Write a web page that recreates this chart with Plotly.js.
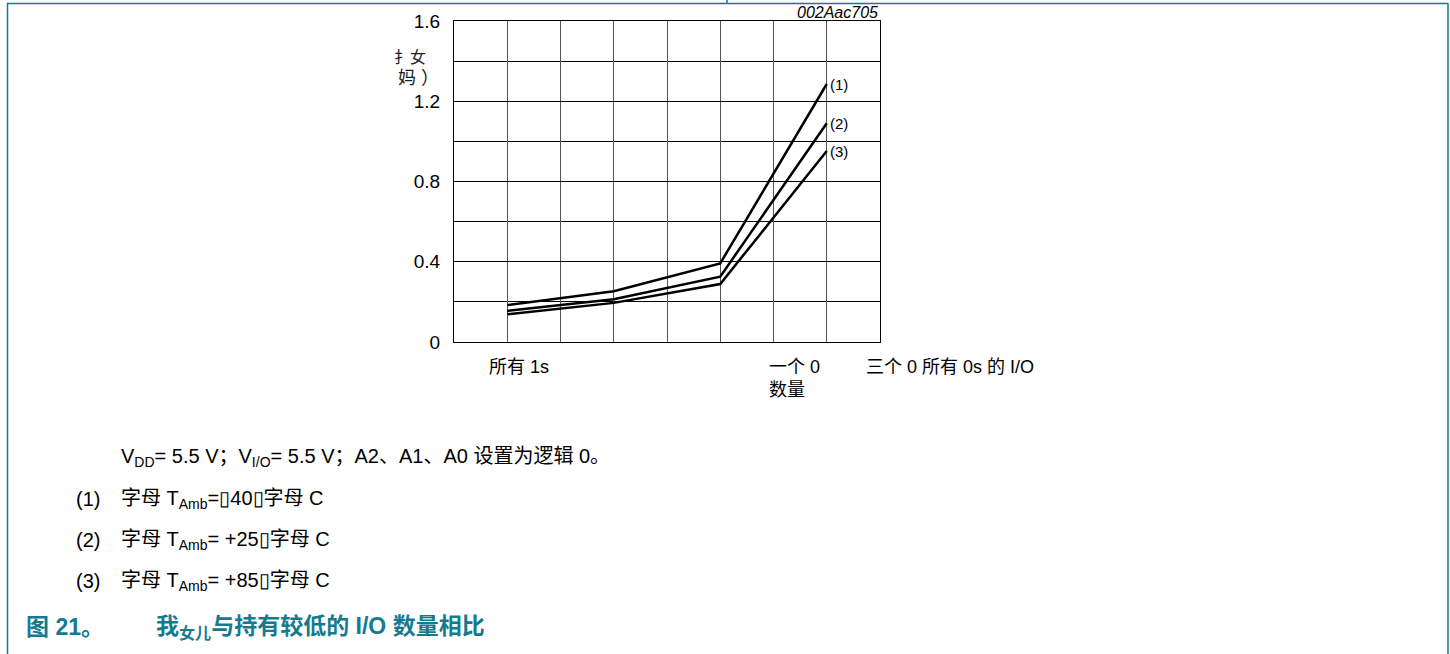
<!DOCTYPE html>
<html>
<head>
<meta charset="utf-8">
<script src="https://cdn.plot.ly/plotly-3.0.1.min.js"></script>
<style>
html,body{margin:0;padding:0;background:#fff;}
#chart{width:1450px;height:654px;}
</style>
</head>
<body>
<div id="chart"></div>
<script>
// ---- data ----
const xPositions = [1, 3, 5, 7];
const seriesNames = ['(1)', '(2)', '(3)'];
const series1 = [0.184, 0.253, 0.392, 1.286];
const series2 = [0.155, 0.213, 0.326, 1.090];
const series3 = [0.138, 0.195, 0.289, 0.952];
const yTickVals = [0, 0.4, 0.8, 1.2, 1.6];
const yTickText = ['0', '0.4', '0.8', '1.2', '1.6'];
const xLabelTexts = ['所有 1s', '一个 0', '三个 0 所有 0s 的 I/O'];
const xLabelPos = [0.62, 5.88, 7.7];
const xAxisTitle = '数量';
const yTitleLines = ['扌女', '妈 ）'];
const chartId = '002Aac705';
const noteLines = [
  'V<sub>DD</sub>= 5.5 V；V<sub>I/O</sub>= 5.5 V；A2、A1、A0 设置为逻辑 0。'
];
const legendNums = ['(1)', '(2)', '(3)'];
const legendTexts = [
  '字母 T<sub>Amb</sub>=▯40▯字母 C',
  '字母 T<sub>Amb</sub>= +25▯字母 C',
  '字母 T<sub>Amb</sub>= +85▯字母 C'
];
const figNumber = '图 21。';
const figTitle = '我<sub>女儿</sub>与持有较低的 I/O 数量相比';

// ---- layout geometry ----
const W = 1450, H = 654;
const L = 454, R = 880, T = 21, B = 342;
const px = x => (x - L) / (R - L);
const py = y => (B - y) / (B - T);
const FONT = 'Liberation Sans, Arial, Noto Sans CJK SC, sans-serif';
const TEAL = '#167a8f';

const allSeries = [series1, series2, series3];
const traces = allSeries.map((s, i) => ({
  x: xPositions, y: s, type: 'scatter', mode: 'lines',
  name: seriesNames[i], line: {color: '#000', width: 2.5}, hoverinfo: 'skip'
}));

const ann = [];
// series end labels
allSeries.forEach((s, i) => {
  ann.push({x: xPositions[xPositions.length-1], y: s[s.length-1], xref: 'x', yref: 'y',
    text: seriesNames[i], showarrow: false, xanchor: 'left', yanchor: 'middle',
    xshift: 1, font: {family: FONT, size: 15, color: '#000'}});
});
// x labels
xLabelTexts.forEach((t, i) => {
  ann.push({x: xLabelPos[i], y: py(367), xref: 'x', yref: 'paper', text: t, showarrow: false,
    xanchor: 'left', yanchor: 'middle', font: {family: FONT, size: 18, color: '#000'}});
});
ann.push({x: xLabelPos[1], y: py(390), xref: 'x', yref: 'paper', text: xAxisTitle, showarrow: false,
  xanchor: 'left', yanchor: 'middle', font: {family: FONT, size: 18, color: '#000'}});
// y title
ann.push({x: px(392), y: py(57), xref: 'paper', yref: 'paper', text: yTitleLines[0], showarrow: false,
  xanchor: 'left', yanchor: 'middle', font: {family: FONT, size: 16, color: '#222'}});
ann.push({x: px(396), y: py(78), xref: 'paper', yref: 'paper', text: yTitleLines[1], showarrow: false,
  xanchor: 'left', yanchor: 'middle', font: {family: FONT, size: 18, color: '#222'}});
// chart id
ann.push({x: 1, y: py(12), xref: 'paper', yref: 'paper', text: '<i>' + chartId + '</i>', showarrow: false,
  xanchor: 'right', yanchor: 'middle', font: {family: FONT, size: 16, color: '#000'}});
// notes
ann.push({x: px(119), y: py(457), xref: 'paper', yref: 'paper', text: noteLines[0], showarrow: false,
  xanchor: 'left', yanchor: 'middle', font: {family: FONT, size: 20, color: '#000'}});
legendNums.forEach((n, i) => {
  const yy = 499 + i*41;
  ann.push({x: px(74), y: py(yy), xref: 'paper', yref: 'paper', text: n, showarrow: false,
    xanchor: 'left', yanchor: 'middle', font: {family: FONT, size: 20, color: '#000'}});
  ann.push({x: px(119), y: py(yy), xref: 'paper', yref: 'paper', text: legendTexts[i], showarrow: false,
    xanchor: 'left', yanchor: 'middle', font: {family: FONT, size: 20, color: '#000'}});
});
ann.push({x: px(24), y: py(627), xref: 'paper', yref: 'paper', text: '<b>' + figNumber + '</b>', showarrow: false,
  xanchor: 'left', yanchor: 'middle', font: {family: FONT, size: 23, color: TEAL}});
ann.push({x: px(154), y: py(627), xref: 'paper', yref: 'paper', text: '<b>' + figTitle + '</b>', showarrow: false,
  xanchor: 'left', yanchor: 'middle', font: {family: FONT, size: 23, color: TEAL}});

const frame = [
  {type: 'line', xref: 'paper', yref: 'paper', x0: px(7), x1: px(1448), y0: py(3.5), y1: py(3.5), line: {color: TEAL, width: 1.5}},
  {type: 'line', xref: 'paper', yref: 'paper', x0: px(7.5), x1: px(7.5), y0: py(3), y1: py(654), line: {color: TEAL, width: 1.5}},
  {type: 'line', xref: 'paper', yref: 'paper', x0: px(1448), x1: px(1448), y0: py(3), y1: py(654), line: {color: TEAL, width: 1.5}},
  {type: 'line', xref: 'paper', yref: 'paper', x0: px(727), x1: px(727), y0: py(0), y1: py(3), line: {color: TEAL, width: 1.5}}
];

const layout = {
  width: W, height: H,
  margin: {l: L, r: W - R, t: T, b: H - B, pad: 0},
  paper_bgcolor: '#fff', plot_bgcolor: '#fff',
  showlegend: false,
  font: {family: FONT, size: 16, color: '#000'},
  xaxis: {range: [0, 8], dtick: 1, tick0: 0, showgrid: true, gridcolor: '#555', gridwidth: 1,
    showticklabels: false, ticks: '', zeroline: false, showline: true, mirror: true,
    linecolor: '#000', linewidth: 1, fixedrange: true},
  yaxis: {range: [0, 1.6], tickmode: 'array', tickvals: yTickVals, ticktext: yTickText,
    showgrid: true, gridcolor: '#000', gridwidth: 1, ticks: '', ticklen: 0, ticklabelstandoff: 9,
    minor: {dtick: 0.2, tick0: 0, showgrid: true, gridcolor: '#000', gridwidth: 1, ticks: ''},
    zeroline: false, showline: true, mirror: true, linecolor: '#000', linewidth: 1,
    tickfont: {family: FONT, size: 19, color: '#000'}, fixedrange: true},
  annotations: ann,
  shapes: frame
};

Plotly.newPlot('chart', traces, layout, {displayModeBar: false, staticPlot: true});
</script>
</body>
</html>
